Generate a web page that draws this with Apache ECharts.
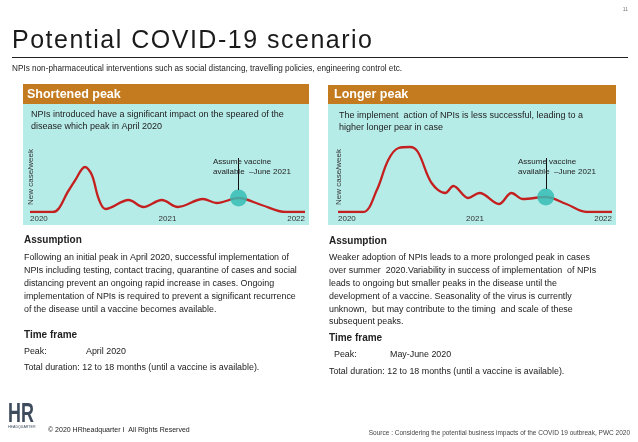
<!DOCTYPE html>
<html><head><meta charset="utf-8">
<script src="https://cdn.jsdelivr.net/npm/echarts@6/dist/echarts.min.js"></script>
<style>
html,body{margin:0;padding:0;background:#fff;}
#wrap{position:relative;width:638px;height:442px;}
#c{position:absolute;left:0;top:0;width:638px;height:442px;}
#t{position:absolute;left:12px;top:27px;font:25px 'Liberation Sans',Arial,sans-serif;letter-spacing:1.5px;color:#1a1a1a;white-space:nowrap;line-height:25px;}
</style>
</head><body>
<div id="wrap"><div id="c"></div><div id="t">Potential COVID-19 scenario</div></div>
<script>
// ---- data ----
const leftMonths  = [0, 2.0, 3.4, 3.9, 4.8, 5.4, 6.0, 6.6, 8.6, 9.9, 11.5, 12.9, 15.1, 16.3, 18.2, 20.2, 22.3, 24];
const leftCases   = [0, 0,   22,  31,  45,  37,  13,  3,   12,  5,   12,   5,    13,   9,    14,   7,    0,    0];
const rightMonths = [0, 2.2, 3.4, 4.4, 5.3, 6.3, 7.0, 8.2, 9.4, 10.1, 11.4, 12.4, 14.1, 15.2, 16.2, 18.2, 20.0, 21.8, 24];
const rightCases  = [0, 0,   22,  52,  64,  65,  60,  29,  19,  26,   14,   19,   8,    19,   13,   15,   8,    0,    0];
const vaccineMonth = 18.2;
const leftVaccineCases = 14;
const rightVaccineCases = 15;
const annotationTop = 54;
const tickMonths = [0, 12, 24];
const yearTicks  = ['2020', '2021', '2022'];

const FF = "'Liberation Sans', Arial, sans-serif";
const pairs = (xs, ys) => xs.map((x, i) => [x, ys[i]]);

function xAxis(gi) {
  return {type:'value', gridIndex:gi, min:0, max:24, interval:12,
    axisLine:{show:false}, axisTick:{show:false}, splitLine:{show:false},
    axisLabel:{fontSize:8, fontFamily:FF, color:'#333', margin:3, alignMinLabel:'left', alignMaxLabel:'right',
      formatter: v => { const i = tickMonths.indexOf(v); return i >= 0 ? yearTicks[i] : ''; }}};
}
function yAxis(gi) {
  return {type:'value', gridIndex:gi, min:0, max:70,
    axisLine:{show:false}, axisTick:{show:false}, axisLabel:{show:false}, splitLine:{show:false},
    name:'New case/week', nameLocation:'middle', nameGap:-5, nameRotate:90,
    nameTextStyle:{fontSize:8, fontFamily:FF, color:'#333'}};
}
function curve(gi, xs, ys, vCases) {
  return {type:'line', xAxisIndex:gi, yAxisIndex:gi, data:pairs(xs, ys), smooth:0.35,
    showSymbol:false, silent:true, lineStyle:{color:'#C42020', width:2.3}, z:3,
    markLine:{symbol:'none', silent:true, label:{show:false}, lineStyle:{color:'#111', width:1, type:'solid'},
      data:[[{coord:[vaccineMonth, vCases + 8]}, {coord:[vaccineMonth, annotationTop]}]]}};
}
function circle(gi, vCases) {
  return {type:'scatter', xAxisIndex:gi, yAxisIndex:gi, data:[[vaccineMonth, vCases]], symbolSize:17, silent:true,
    itemStyle:{color:'#36BDB5', opacity:0.85}, z:4};
}
function txt(x, y, text, size, opts) {
  opts = opts || {};
  const el = {type:'text', x:x, y:y, z:10, silent:true, style:{text:text, fill:opts.fill || '#222',
    font:(opts.weight || 'normal') + ' ' + size + 'px ' + FF, align:opts.align || 'left', verticalAlign:opts.va || 'middle'}};
  if (opts.lh) el.style.lineHeight = opts.lh;
  if (opts.sx) el.scaleX = opts.sx;
  return el;
}

const leftPara = 'Following an initial peak in April 2020, successful implementation of\nNPIs including testing, contact tracing, quarantine of cases and social\ndistancing prevent an ongoing rapid increase in cases. Ongoing\nimplementation of NPIs is required to prevent a significant recurrence\nof the disease until a vaccine becomes available.';
const rightPara = 'Weaker adoption of NPIs leads to a more prolonged peak in cases\nover summer  2020.Variability in success of implementation  of NPIs\nleads to ongoing but smaller peaks in the disease until the\ndevelopment of a vaccine. Seasonality of the virus is currently\nunknown,  but may contribute to the timing  and scale of these\nsubsequent peaks.';

const BODY = 8.9;
const graphics = [
  {type:'rect', shape:{x:23, y:84, width:286, height:20}, style:{fill:'#C47B1F'}, z:0, silent:true},
  {type:'rect', shape:{x:23, y:104, width:286, height:121}, style:{fill:'#B6ECE8'}, z:0, silent:true},
  {type:'rect', shape:{x:328, y:85, width:288, height:19}, style:{fill:'#C47B1F'}, z:0, silent:true},
  {type:'rect', shape:{x:328, y:104, width:288, height:121}, style:{fill:'#B6ECE8'}, z:0, silent:true},
  {type:'rect', shape:{x:12, y:57, width:616, height:1}, style:{fill:'#222'}, z:0, silent:true},
  txt(628, 10, '11', 5, {align:'right', fill:'#777'}),
  txt(12, 69, 'NPIs non-pharmaceutical interventions such as social distancing, travelling policies, engineering control etc.', 8.2),
  txt(27, 95, 'Shortened peak', 12.5, {weight:'bold', fill:'#fff'}),
  txt(334, 95, 'Longer peak', 12.5, {weight:'bold', fill:'#fff'}),
  txt(31, 115, 'NPIs introduced have a significant impact on the speared of the', 9),
  txt(31, 127, 'disease which peak in April 2020', 9),
  txt(339, 116, 'The implement  action of NPIs is less successful, leading to a', 9),
  txt(339, 128, 'higher longer pear in case', 9),
  txt(213, 162, 'Assume vaccine', 8),
  txt(213, 172, 'available  \u2013June 2021', 8),
  txt(518, 162, 'Assume vaccine', 8),
  txt(518, 172, 'available  \u2013June 2021', 8),
  // left text block
  txt(24, 240, 'Assumption', 10, {weight:'bold'}),
  txt(24, 251.5, leftPara, BODY, {va:'top', lh:12.9}),
  txt(24, 335, 'Time frame', 10, {weight:'bold'}),
  txt(24, 352, 'Peak:', BODY),
  txt(86, 352, 'April 2020', BODY),
  txt(24, 368, 'Total duration: 12 to 18 months (until a vaccine is available).', BODY),
  // right text block
  txt(329, 241, 'Assumption', 10, {weight:'bold'}),
  txt(329, 251.5, rightPara, BODY, {va:'top', lh:12.8}),
  txt(329, 338, 'Time frame', 10, {weight:'bold'}),
  txt(334, 355, 'Peak:', BODY),
  txt(390, 355, 'May-June 2020', BODY),
  txt(329, 372, 'Total duration: 12 to 18 months (until a vaccine is available).', BODY),
  // footer
  txt(8, 414, 'HR', 28, {weight:'bold', fill:'#3E4B5C', sx:0.64}),
  txt(8, 427, 'HEADQUARTER', 3.6, {fill:'#3E4B5C'}),
  txt(48, 430, '\u00a9 2020 HRheadquarter I  All Rights Reserved', 7, {fill:'#222'}),
  txt(630, 433, 'Source : Considering the potential business impacts of the COVID 19 outbreak, PWC 2020', 6.5, {align:'right', fill:'#444'})
];

const chart = echarts.init(document.getElementById('c'), null, {renderer:'canvas'});
chart.setOption({
  animation:false,
  backgroundColor:'#fff',
  grid:[{left:30, top:142, width:275, height:70}, {left:338, top:142, width:274, height:70}],
  xAxis:[xAxis(0), xAxis(1)],
  yAxis:[yAxis(0), yAxis(1)],
  series:[curve(0, leftMonths, leftCases, leftVaccineCases), curve(1, rightMonths, rightCases, rightVaccineCases),
          circle(0, leftVaccineCases), circle(1, rightVaccineCases)],
  graphic:graphics
});
</script>
</body></html>
